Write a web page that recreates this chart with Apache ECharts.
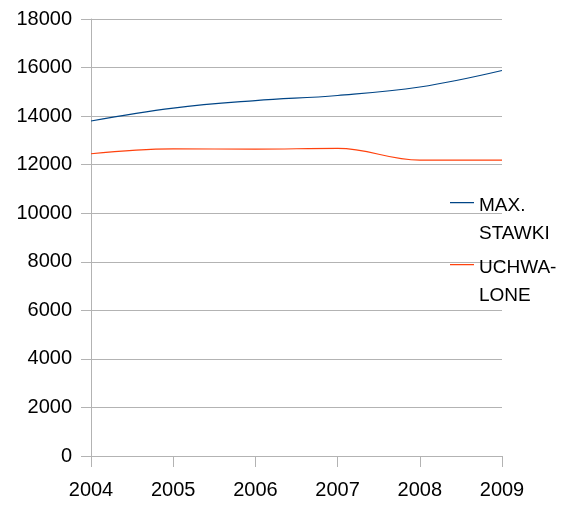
<!DOCTYPE html>
<html>
<head>
<meta charset="utf-8">
<script src="https://cdn.jsdelivr.net/npm/echarts@6/dist/echarts.min.js"></script>
<style>html,body{margin:0;padding:0;background:#fff}#c{width:567px;height:506px}</style>
</head>
<body>
<div id="c"></div>
<script>
const years = ['2004', '2005', '2006', '2007', '2008', '2009'];
const maxStawki = [13800, 14330, 14640, 14850, 15200, 15880];
const uchwalone = [12450, 12650, 12640, 12670, 12190, 12190];
const seriesNames = ['MAX.\nSTAWKI', 'UCHWA-\nLONE'];
const yTicks = { min: 0, max: 18000, interval: 2000 };

const font = 'Liberation Sans, Arial, sans-serif';
const chart = echarts.init(document.getElementById('c'), null, { renderer: 'canvas' });
chart.setOption({
  animation: false,
  backgroundColor: '#ffffff',
  grid: { left: 91, right: 65, top: 19, bottom: 50, containLabel: false },
  legend: {
    orient: 'vertical',
    left: 450,
    top: 192,
    padding: 0,
    itemGap: 6,
    itemWidth: 24,
    itemHeight: 36,
    icon: 'path://M0,0H24V1.2H0Z M0,35.95H0.05V36H0Z',
    textStyle: { fontFamily: font, fontSize: 19, color: '#000', lineHeight: 28, padding: [0, 0, 0, 0] },
    data: seriesNames
  },
  xAxis: {
    type: 'category',
    data: years,
    boundaryGap: false,
    axisLine: { show: true, lineStyle: { color: '#b3b3b3', width: 1 } },
    axisTick: { show: true, length: 11, alignWithLabel: true, lineStyle: { color: '#b3b3b3' } },
    axisLabel: { fontFamily: font, fontSize: 20, color: '#000', margin: 24 },
    splitLine: { show: false }
  },
  yAxis: {
    type: 'value',
    min: yTicks.min,
    max: yTicks.max,
    interval: yTicks.interval,
    axisLine: { show: true, lineStyle: { color: '#b3b3b3', width: 1 } },
    axisTick: { show: true, length: 10, lineStyle: { color: '#b3b3b3' } },
    axisLabel: { fontFamily: font, fontSize: 20, color: '#000', margin: 19, formatter: function (v) { return String(v); } },
    splitLine: { show: true, lineStyle: { color: '#b3b3b3', width: 1 } }
  },
  series: [
    {
      name: seriesNames[0], type: 'line', data: maxStawki, smooth: 0.4,
      symbol: 'none', color: '#004586', lineStyle: { width: 1.2, color: '#004586' }
    },
    {
      name: seriesNames[1], type: 'line', data: uchwalone, smooth: 0.4,
      symbol: 'none', color: '#ff420e', lineStyle: { width: 1.2, color: '#ff420e' }
    }
  ]
});
</script>
</body>
</html>
